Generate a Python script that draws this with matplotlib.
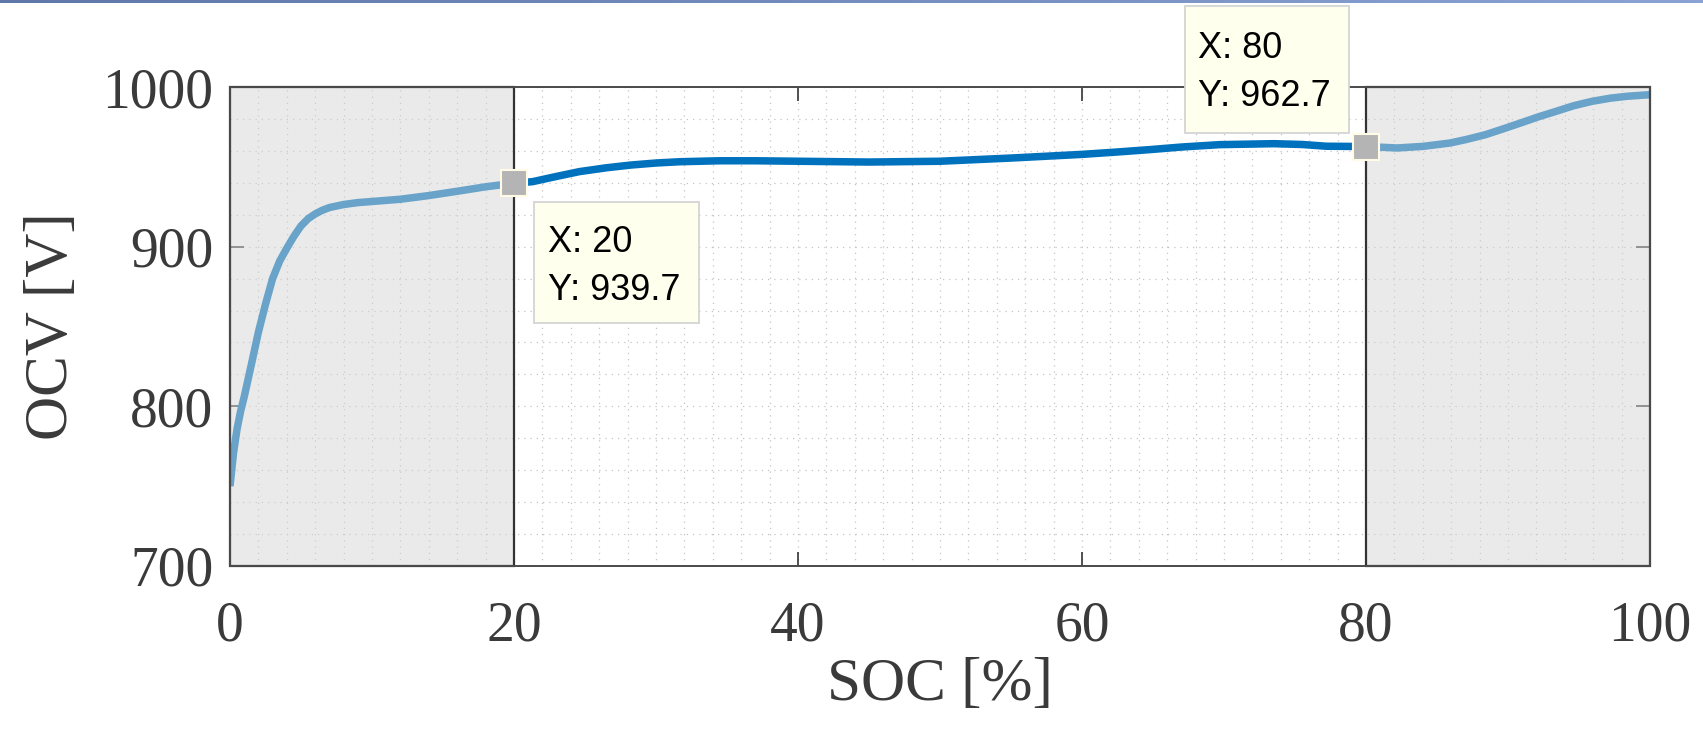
import numpy as np
import matplotlib
matplotlib.use("Agg")
import matplotlib.pyplot as plt
from matplotlib.patches import Rectangle
from matplotlib.transforms import IdentityTransform

# Open-circuit voltage versus state of charge
soc = [0, 0.25, 0.5, 0.75, 1, 1.5, 2, 2.5, 3, 3.5, 4, 4.5, 5, 5.5, 6, 6.5, 7,
       8, 9, 10, 12, 14, 16, 18, 20,
       21.3, 23, 24.6, 26.5, 28.2, 30, 31.7, 34.5, 37, 40, 45, 50, 55, 60,
       62.5, 64.8, 67, 69.7, 73.5, 75.5, 77.2, 80, 82.2, 84, 85.9, 87,
       88.4, 89.6, 90.9, 92.1, 93.4, 94.6, 95.9, 97.2, 98.4, 100]
ocv = [750, 771, 786, 797, 806, 826, 846.5, 864, 880, 891, 899, 906.5,
       913, 917.5, 920.5, 922.8, 924.5, 926.4, 927.6, 928.3, 929.7, 932,
       934.7, 937.5, 939.7,
       940.7, 944, 947, 949.4, 951.1, 952.4, 953.2, 953.8, 953.8, 953.5,
       953, 953.5, 955.5, 957.8, 959.3, 960.8, 962.4, 963.9, 964.5, 964,
       962.9, 962.7, 961.8, 962.8, 964.9, 967, 970.1, 973.6, 977.5, 981.2,
       984.8, 988.2, 991, 993, 994.2, 995.2]

# Highlighted operating limits and their data tips
window_soc = [20, 80]
window_ocv = [939.7, 962.7]
tip_labels = ["X: 20\nY: 939.7", "X: 80\nY: 962.7"]

x_ticks = [0, 20, 40, 60, 80, 100]
y_ticks = [700, 800, 900, 1000]

W, H = 1703, 731
fig = plt.figure(figsize=(W / 100, H / 100), dpi=100)
ax = fig.add_axes([230 / W, (H - 566) / H, 1420 / W, 479 / H])

serif = ["Liberation Serif", "DejaVu Serif"]
sans = ["Liberation Sans", "DejaVu Sans"]
txt_col = "#3a3a3a"
line_col = "#0072BD"

ax.set_xlim(0, 100)
ax.set_ylim(700, 1000)

# dotted grid at minor spacing
ax.set_xticks(np.arange(0, 101, 2), minor=True)
ax.set_yticks(np.arange(700, 1001, 20), minor=True)
for which in ("minor", "major"):
    ax.grid(True, which=which, linestyle=(0, (1.0, 4.0)), color="#c4c4c4",
            linewidth=0.9, zorder=0.5)
ax.set_axisbelow(True)

ax.plot(soc, ocv, color=line_col, linewidth=5.4, solid_capstyle="butt",
        solid_joinstyle="round", zorder=2)

# translucent cover over the regions outside the window, with dark edges
shade_spans = [(0, window_soc[0]), (window_soc[1], 100)]
for a, b in shade_spans:
    ax.axvspan(a, b, facecolor="#d6d6d6", alpha=0.494, edgecolor="none",
               zorder=3)
    ax.add_patch(Rectangle((a, 700), b - a, 300, fill=False,
                           edgecolor="#333333", linewidth=1.6, zorder=3.5,
                           clip_on=False))

ax.plot(window_soc, window_ocv, linestyle="none", marker="s",
        markersize=19, markerfacecolor="#b4b4b4",
        markeredgecolor="#fffbe6", markeredgewidth=1.5, zorder=5)

ax.set_xticks(x_ticks)
ax.set_yticks(y_ticks)
ax.set_xticklabels([str(v) for v in x_ticks], family=serif, fontsize=40,
                   color=txt_col)
ax.set_yticklabels([str(v) for v in y_ticks], family=serif, fontsize=40,
                   color=txt_col)
ax.tick_params(which="major", direction="in", length=10, width=1.2,
               color="#333333", top=True, right=True)
ax.tick_params(axis="y", which="major", pad=12)
ax.tick_params(axis="x", which="major", pad=24.5)
ax.tick_params(which="minor", length=0)

ax.set_xlabel("SOC [%]", family=serif, fontsize=44, color=txt_col,
              labelpad=4)
ax.set_ylabel("OCV [V]", family=serif, fontsize=44, color=txt_col,
              labelpad=16)

for s in ax.spines.values():
    s.set_color("#4a4a4a")
    s.set_linewidth(1.4)
    s.set_zorder(4)

# data tips: box and text placed in pixels relative to each marker
# (box x0, box y0, box w, box h, text x, first baseline y)
tip_geom = [(20, -140, 165, 121, 34, -68.4),
            (-181, 14, 164, 127, -168, 89)]
line_step = 48.5
for xv, yv, lab, g in zip(window_soc, window_ocv, tip_labels, tip_geom):
    mx, my = ax.transData.transform((xv, yv))
    bx, by, bw, bh, tx, ty = g
    fig.add_artist(Rectangle((mx + bx, my + by), bw, bh,
                             transform=IdentityTransform(),
                             facecolor="#ffffee", edgecolor="#d4d4d4",
                             linewidth=1.3, zorder=6))
    for i, part in enumerate(lab.split("\n")):
        fig.text(mx + tx, my + ty - i * line_step, part,
                 transform=IdentityTransform(), ha="left", va="baseline",
                 fontsize=26, family=sans, color="black", zorder=7)

# thin banner strip along the top edge
band = fig.add_axes([0, 1 - 3 / H, 1, 3 / H])
band.imshow(np.linspace(0, 1, 256)[None, :], aspect="auto",
            cmap=matplotlib.colors.LinearSegmentedColormap.from_list(
                "band", ["#5f78a8", "#8aa3d4"]))
band.axis("off")

fig.savefig("out.png", dpi=100)
